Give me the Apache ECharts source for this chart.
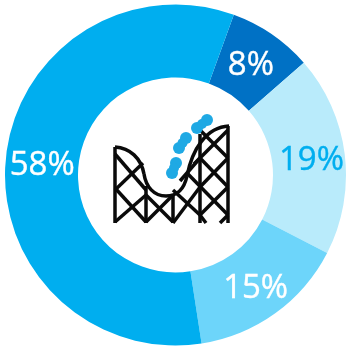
<!DOCTYPE html>
<html>
<head>
<meta charset="utf-8">
<style>html,body{margin:0;padding:0;background:#fff}#chart{width:347px;height:348px}</style>
<script src="https://cdn.jsdelivr.net/npm/echarts@6/dist/echarts.min.js"></script>
</head>
<body>
<div id="chart"></div>
<script>
// Share of each segment, clockwise from the dark wedge
const shares = [8, 19, 15, 58];
const sliceColors = ['#0071C5', '#B9EBFB', '#6DD5FA', '#00AEEF'];
const labelColors = ['#FFFFFF', '#00AEEF', '#FFFFFF', '#FFFFFF'];
// Small shifts of the percentages inside the ring
const labelShiftX = [-2, 0, 0, 3];
const labelShiftY = [4, 2, 2, 4];

// Roller coaster icon in the hole of the ring: track curves, then posts and braces
const trackCurves = [
  [115, 147, 130, 148, 141, 158, 144, 174],
  [144, 174, 146, 187, 154, 196, 166, 196],
  [166, 196, 177, 196, 184, 190, 187, 176],
  [187, 176, 192, 150, 206, 127, 229, 126]
];
const frameLines = [
  [115, 147, 115, 223], [228, 126, 228, 223],
  [146, 186, 146, 223], [173, 194, 173, 223], [200, 134, 200, 223],
  [115, 154, 146, 190], [143, 163, 115, 190], [115, 188, 146, 222], [146, 195, 115, 222],
  [146, 195, 173, 222], [173, 195, 146, 222],
  [173, 223, 200, 187], [173, 190, 200, 215], [200, 215, 206, 223], [228, 215, 220, 223],
  [187, 173, 228, 215], [200, 158, 180, 181], [200, 130, 228, 158], [228, 130, 194, 164],
  [228, 158, 200, 187], [200, 158, 228, 187], [228, 187, 200, 215]
];
const carPairs = [
  [176, 163, 172, 173],
  [186, 138, 179, 148],
  [207, 120, 197, 128]
];

const iconStroke = { stroke: '#0A0A0A', lineWidth: 3.5, fill: 'none' };
const carColor = '#1FA9E4';
const carDot = (cx, cy, r) => ({ type: 'circle', shape: { cx, cy, r }, style: { fill: carColor } });

const chart = echarts.init(document.getElementById('chart'));
chart.setOption({
  animation: false,
  backgroundColor: '#fff',
  series: [{
    type: 'pie',
    center: [175.5, 175],
    radius: [97.5, 170.5],
    startAngle: 70,
    clockwise: true,
    silent: true,
    labelLine: { show: false },
    labelLayout: (p) => ({ dx: labelShiftX[p.dataIndex], dy: labelShiftY[p.dataIndex] }),
    data: shares.map((v, i) => ({
      value: v,
      itemStyle: { color: sliceColors[i] },
      label: {
        show: true,
        position: 'inside',
        formatter: '{c}%',
        color: labelColors[i],
        fontFamily: '"Open Sans"',
        fontSize: 33,
        textBorderColor: labelColors[i],
        textBorderWidth: 0.4
      }
    }))
  }],
  graphic: [
    ...frameLines.map(([x1, y1, x2, y2]) => ({
      type: 'line',
      shape: { x1, y1, x2, y2 },
      style: iconStroke
    })),
    ...trackCurves.map(([x1, y1, cpx1, cpy1, cpx2, cpy2, x2, y2]) => ({
      type: 'bezierCurve',
      shape: { x1, y1, cpx1, cpy1, cpx2, cpy2, x2, y2 },
      style: iconStroke
    })),
    ...carPairs.flatMap(([x1, y1, x2, y2]) => [
      carDot(x1, y1, 6),
      carDot(x2, y2, 6),
      carDot((x1 + x2) / 2, (y1 + y2) / 2, 5)
    ])
  ]
});
</script>
</body>
</html>
